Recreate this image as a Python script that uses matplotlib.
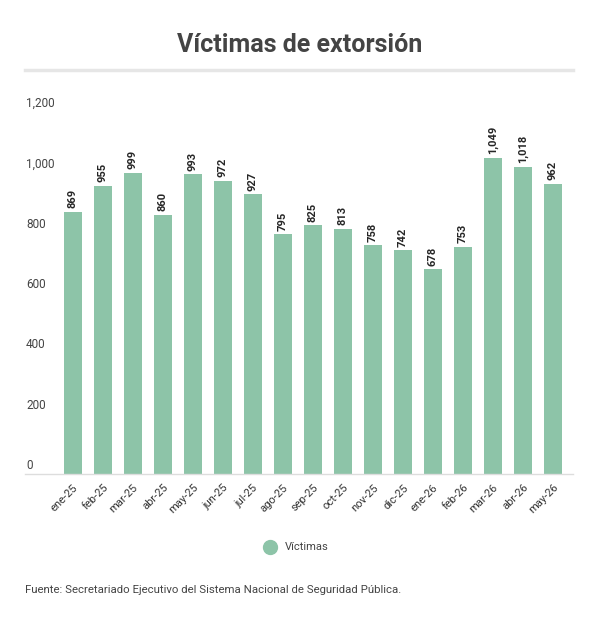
import matplotlib
matplotlib.use("Agg")
import matplotlib.pyplot as plt
from matplotlib.lines import Line2D
from matplotlib.transforms import offset_copy

plt.rcParams['font.family'] = ['Roboto', 'DejaVu Sans']

months = ["ene-25", "feb-25", "mar-25", "abr-25", "may-25", "jun-25", "jul-25",
          "ago-25", "sep-25", "oct-25", "nov-25", "dic-25", "ene-26", "feb-26",
          "mar-26", "abr-26", "may-26"]
victimas = [869, 955, 999, 860, 993, 972, 927, 795, 825, 813, 758, 742, 678, 753,
            1049, 1018, 962]
yticks = [0, 200, 400, 600, 800, 1000, 1200]
ytick_labels = ["0", "200", "400", "600", "800", "1,000", "1,200"]

bar_color = "#8dc4a8"
W, H = 600, 625
fig = plt.figure(figsize=(W / 100, H / 100), dpi=100)
fig.patch.set_facecolor("white")

# axes: x from 25 to 573 px, y from 474 (0) to 112 (1200)
ax = fig.add_axes([25 / W, 1 - 474 / H, (573 - 25) / W, (474 - 112) / H])
x = list(range(len(months)))
ax.bar(x, victimas, width=0.6, color=bar_color, zorder=2)
ax.set_xlim(-1.6, 16.67)
ax.set_ylim(0, 1200)

for s in ["top", "right", "left"]:
    ax.spines[s].set_visible(False)
ax.spines["bottom"].set_color("#dddddd")
ax.spines["bottom"].set_linewidth(1)

ax.set_yticks(yticks)
ax.set_yticklabels([])
ax.tick_params(axis="y", length=0, pad=0)
ytrans = offset_copy(ax.get_yaxis_transform(), fig=fig, x=1, y=2, units="dots")
for v, lab in zip(yticks, ytick_labels):
    ax.text(0.0, v, lab, transform=ytrans, ha="left", va="bottom",
            fontsize=8.5, color="#444444")

ax.set_xticks(x)
ax.set_xticklabels(months, rotation=45, ha="right", rotation_mode="anchor",
                   fontsize=8, color="#333333")
ax.tick_params(axis="x", length=0, pad=6)

for xi, v in zip(x, victimas):
    ax.annotate(f"{v:,}", (xi, v), xytext=(0, 2.5), textcoords="offset points",
                rotation=90, ha="center", va="bottom", fontsize=8,
                fontweight="bold", color="#262626")

# title and rule
fig.text(0.5, 1 - 45 / H, "Víctimas de extorsión", ha="center", va="center",
         fontsize=18, fontweight="bold", color="#444444")
fig.add_artist(Line2D([25 / W, 573 / W], [1 - 69.5 / H, 1 - 69.5 / H],
                      transform=fig.transFigure, color="#e6e6e6", linewidth=2.5))

# legend
fig.add_artist(Line2D([270 / W], [1 - 546.5 / H], marker="o", markersize=10,
                      color=bar_color, linestyle="none", transform=fig.transFigure))
fig.text(285 / W, 1 - 546.5 / H, "Víctimas", ha="left", va="center", fontsize=8,
         color="#444444")

fig.text(25 / W, 1 - 590 / H,
         "Fuente: Secretariado Ejecutivo del Sistema Nacional de Seguridad Pública.",
         ha="left", va="center", fontsize=8.2, color="#444444")

fig.savefig("out.png", dpi=100, facecolor="white")
